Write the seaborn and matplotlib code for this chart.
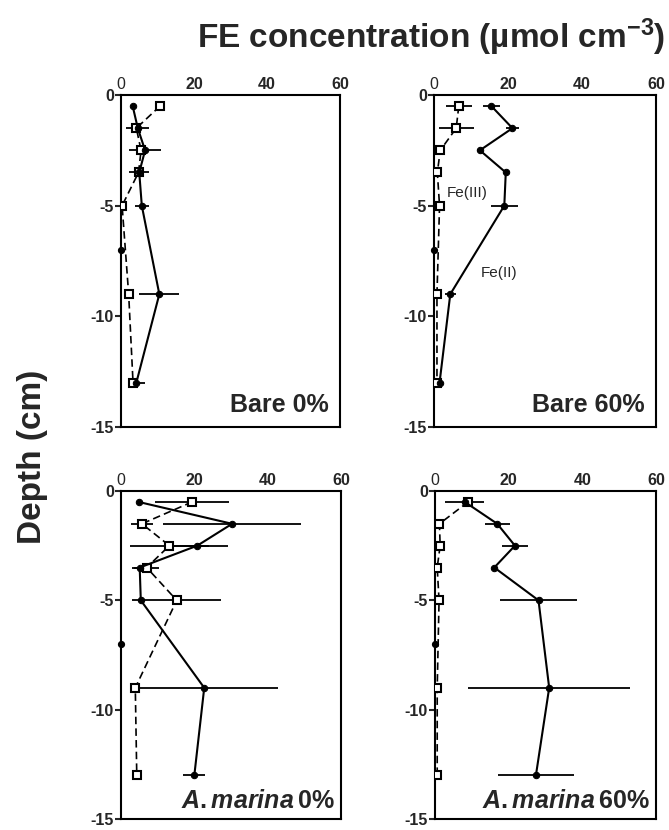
import numpy as np
import pandas as pd
import matplotlib
matplotlib.use("Agg")
import matplotlib.pyplot as plt
import seaborn as sns

# ---- data ----
depths = [-0.5, -1.5, -2.5, -3.5, -5, -9, -13]
lone_depth = -7  # isolated point plotted at x=0

panels = ["Bare 0%", "Bare 60%", "A. marina 0%", "A. marina 60%"]

fe2 = {
    "Bare 0%":       [3.2, 4.6, 6.6, 5.0, 5.7, 10.5, 4.2],
    "Bare 60%":      [15.5, 21.2, 12.4, 19.4, 19.0, 4.4, 1.5],
    "A. marina 0%":  [4.8, 30.3, 20.8, 5.1, 5.4, 22.7, 20.0],
    "A. marina 60%": [8.1, 16.9, 21.7, 16.1, 28.1, 31.0, 27.4],
}
fe2_err = {
    "Bare 0%":       [0, 3.2, 4.3, 2.7, 2.0, 5.5, 2.4],
    "Bare 60%":      [2.3, 1.7, 0.8, 0, 3.7, 1.5, 0.8],
    "A. marina 0%":  [0, 18.8, 8.4, 2.0, 0, 20.0, 3.0],
    "A. marina 60%": [5.3, 3.4, 3.6, 0, 10.4, 22.0, 10.3],
}
fe3 = {
    "Bare 0%":       [10.7, 4.2, 5.5, 4.8, 0.3, 2.1, 3.3],
    "Bare 60%":      [6.7, 6.0, 1.7, 0.9, 1.5, 0.8, 0.8],
    "A. marina 0%":  [19.4, 5.7, 13.2, 7.0, 15.2, 3.9, 4.3],
    "A. marina 60%": [9.0, 1.2, 1.4, 0.6, 1.1, 0.6, 0.6],
}
fe3_err = {
    "Bare 0%":       [0, 0, 0, 0, 0, 0, 0],
    "Bare 60%":      [3.5, 4.7, 0, 0, 0, 0, 0],
    "A. marina 0%":  [10.0, 3.0, 10.7, 3.4, 12.2, 0, 0],
    "A. marina 60%": [0, 0, 0, 0, 0, 0, 0],
}

xticks = [0, 20, 40, 60]
yticks = [0, -5, -10, -15]

# ---- style ----
sns.set_style("ticks")
plt.rcParams["font.family"] = ["Liberation Sans", "DejaVu Sans"]
plt.rcParams["axes.unicode_minus"] = False
plt.rcParams["mathtext.fontset"] = "custom"
plt.rcParams["mathtext.rm"] = "Liberation Sans:bold"
plt.rcParams["mathtext.it"] = "Liberation Sans:bold:italic"
plt.rcParams["mathtext.bf"] = "Liberation Sans:bold"

fig = plt.figure(figsize=(6.69, 8.30), dpi=100)

W, H = 669, 830
boxes = {
    "Bare 0%":       (121, 95, 340, 427),
    "Bare 60%":      (434, 95, 656, 427),
    "A. marina 0%":  (121, 491, 341, 819),
    "A. marina 60%": (435, 491, 656, 819),
}

for name in panels:
    x0, y0, x1, y1 = boxes[name]
    ax = fig.add_axes([x0 / W, 1 - y1 / H, (x1 - x0) / W, (y1 - y0) / H])
    df2 = pd.DataFrame({"conc": fe2[name], "depth": depths})
    df3 = pd.DataFrame({"conc": fe3[name], "depth": depths})

    # error bars (horizontal)
    ax.errorbar(fe2[name], depths, xerr=fe2_err[name], fmt="none",
                ecolor="black", elinewidth=1.3, capsize=0, zorder=2)
    ax.errorbar(fe3[name], depths, xerr=fe3_err[name], fmt="none",
                ecolor="black", elinewidth=1.3, capsize=0, zorder=2)

    sns.lineplot(data=df3, x="conc", y="depth", sort=False, estimator=None,
                 ax=ax, color="black", lw=1.2, linestyle=(0, (4.5, 2.5)),
                 marker="s", markersize=5.3, markerfacecolor="white",
                 markeredgecolor="black", markeredgewidth=1.5, zorder=3)
    sns.lineplot(data=df2, x="conc", y="depth", sort=False, estimator=None,
                 ax=ax, color="black", lw=1.5, marker="o", markersize=4.6,
                 markerfacecolor="black", markeredgecolor="black", zorder=4)
    ax.plot([0], [lone_depth], marker="o", ms=4.2, color="black",
            clip_on=False, zorder=5)

    ax.set_xlim(0, 60)
    ax.set_ylim(-15, 0)
    ax.set_xlabel("")
    ax.set_ylabel("")
    ax.xaxis.tick_top()
    ax.set_xticks(xticks)
    ax.set_xticklabels([str(t) for t in xticks])
    ax.set_yticks(yticks)
    ax.set_yticklabels([str(t) for t in yticks])
    for i, lab in enumerate(ax.get_xticklabels()):
        lab.set_fontsize(11.5)
        lab.set_fontweight("normal" if i == 0 else "bold")
    for lab in ax.get_yticklabels():
        lab.set_fontsize(11.5)
        lab.set_fontweight("bold")
    ax.tick_params(axis="x", length=0, pad=2)
    ax.tick_params(axis="y", length=4, width=1.5, pad=1, direction="out")
    for sp in ax.spines.values():
        sp.set_visible(True)
        sp.set_linewidth(1.5)
        sp.set_color("black")

    if name.startswith("A. marina"):
        pct = name.split()[-1]
        ax.text(0.975, 0.035, r"$\mathit{A.}\mathit{marina}$" + "\u2009" + pct,
                transform=ax.transAxes, ha="right", va="baseline",
                fontsize=18, fontweight="bold")
    else:
        ax.text(0.95, 0.045, name, transform=ax.transAxes, ha="right",
                va="baseline", fontsize=18, fontweight="bold")

    if name == "Bare 60%":
        ax.text(9, -4.45, "Fe(III)", ha="center", va="center", fontsize=11)
        ax.text(17.5, -8.05, "Fe(II)", ha="center", va="center", fontsize=11)

fig.text(431 / W, 1 - 37 / H, r"FE concentration (µmol cm$^{-3}$)",
         ha="center", va="center", fontsize=24, fontweight="bold")
fig.text(33 / W, 1 - 457 / H, "Depth (cm)", rotation=90, ha="center",
         va="center", fontsize=24, fontweight="bold")

fig.savefig("out.png", dpi=100)
